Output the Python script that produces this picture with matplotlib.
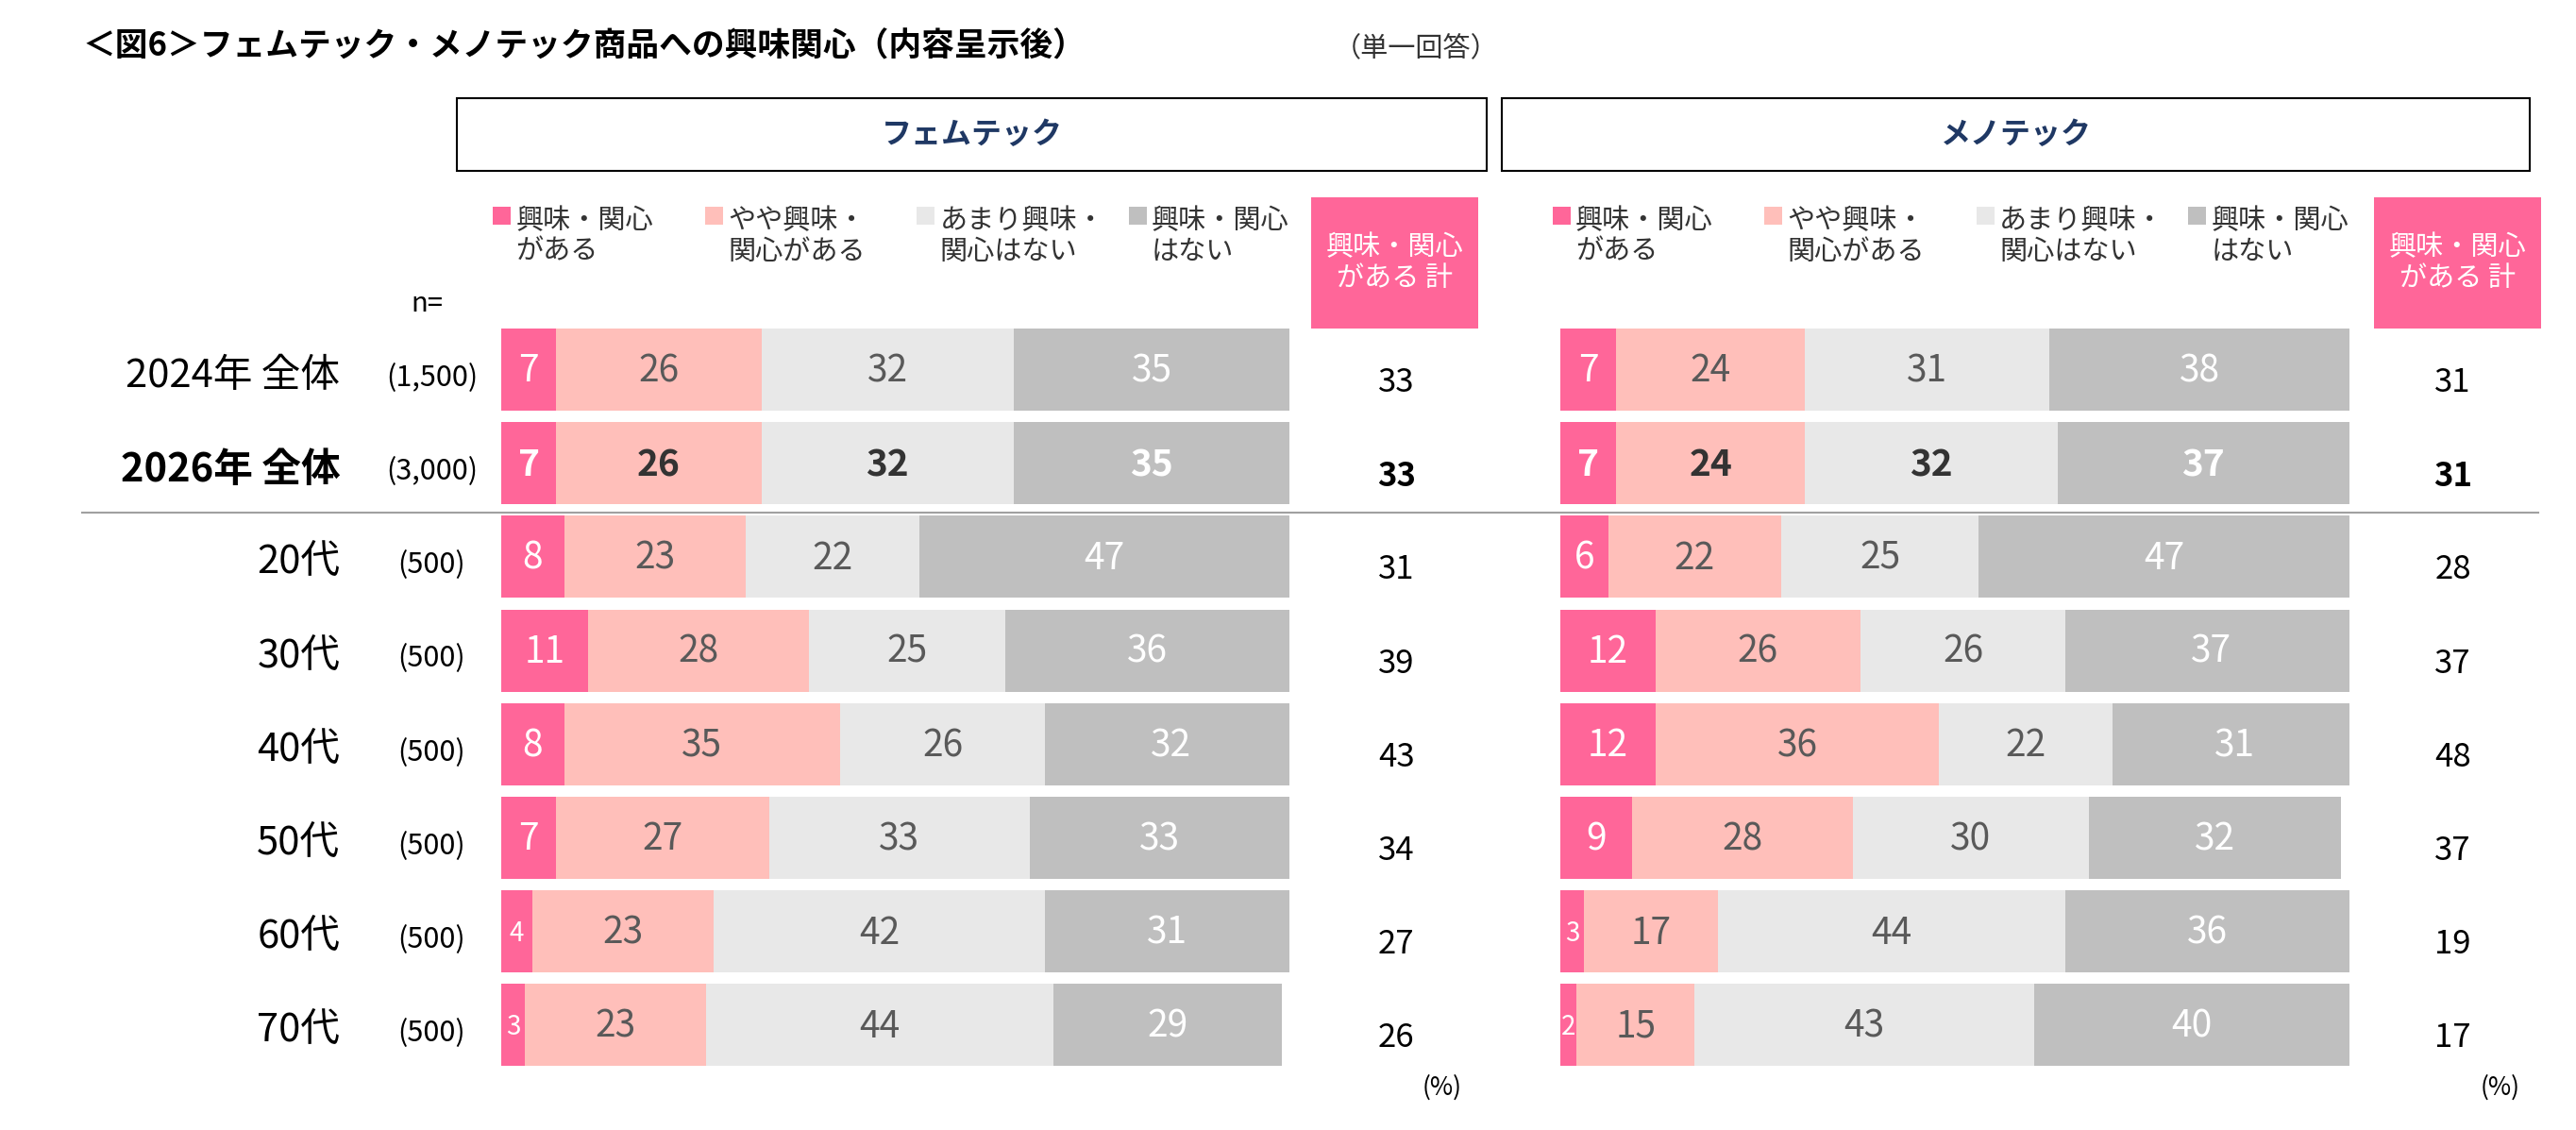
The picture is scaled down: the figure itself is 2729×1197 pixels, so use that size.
import numpy as np
import matplotlib.pyplot as plt
from matplotlib.patches import Rectangle

plt.rcParams['font.family'] = ['Noto Sans CJK JP', 'DejaVu Sans']

rows = ['2024年 全体', '2026年 全体', '20代', '30代', '40代', '50代', '60代', '70代']
ns = ['(1,500)', '(3,000)', '(500)', '(500)', '(500)', '(500)', '(500)', '(500)']
legend = ['興味・関心\nがある', 'やや興味・\n関心がある', 'あまり興味・\n関心はない', '興味・関心\nはない']
fem = np.array([[7, 26, 32, 35], [7, 26, 32, 35], [8, 23, 22, 47], [11, 28, 25, 36],
                [8, 35, 26, 32], [7, 27, 33, 33], [4, 23, 42, 31], [3, 23, 44, 29]])
fem_total = [33, 33, 31, 39, 43, 34, 27, 26]
meno = np.array([[7, 24, 31, 38], [7, 24, 32, 37], [6, 22, 25, 47], [12, 26, 26, 37],
                 [12, 36, 22, 31], [9, 28, 30, 32], [3, 17, 44, 36], [2, 15, 43, 40]])
meno_total = [31, 31, 28, 37, 48, 37, 19, 17]

colors = ['#FF6699', '#FFBFBA', '#E8E8E8', '#BFBFBF']
txtc = ['white', '#595959', '#595959', 'white']

W, H = 2729, 1197
fig = plt.figure(figsize=(W / 100, H / 100), dpi=100)
bg = fig.add_axes([0, 0, 1, 1])
bg.set_xlim(0, 1568)
bg.set_ylim(687.8, 0)
bg.axis('off')

bg.text(50, 28, '＜図6＞フェムテック・メノテック商品への興味関心（内容呈示後）', fontsize=25, fontweight='bold', va='center')
bg.text(812, 30, '（単一回答）', fontsize=21, va='center', color='#333333')
bg.text(250, 185, 'n=', fontsize=21, va='center')

row_y = np.array([225, 282, 339, 396, 453, 510, 567, 624])
for i, (r, n) in enumerate(zip(rows, ns)):
    bold = 'bold' if i == 1 else 'normal'
    if i < 2:
        bg.text(207, row_y[i] + 4, r, fontsize=30, ha='right', va='center', fontweight=bold)
        bg.text(291, row_y[i] + 5, n, fontsize=22, ha='right', va='center')
    else:
        bg.text(207, row_y[i] + 4, r, fontsize=30, ha='right', va='center')
        bg.text(283, row_y[i] + 5, n, fontsize=22, ha='right', va='center')
bg.plot([50, 1545], [312, 312], color='#A0A0A0', lw=1.5)

panels = [('フェムテック', 278, 905, 305, fem, fem_total, 850, 798, 878),
          ('メノテック', 914, 1540, 950, meno, meno_total, 1493, 1445, 1522)]
for title, bx0, bx1, ax0, data, tot, tx, px, pcx in panels:
    bg.add_patch(Rectangle((bx0, 60), bx1 - bx0, 44, fill=False, ec='black', lw=1.5))
    bg.text((bx0 + bx1) / 2, 82, title, fontsize=23, fontweight='bold', color='#1F3864', ha='center', va='center')
    for k, lab in enumerate(legend):
        lx = ax0 - 5 + k * 129
        bg.add_patch(Rectangle((lx, 126), 11, 11, color=colors[k], lw=0))
        bg.text(lx + 14, 144, lab, fontsize=21, va='center', linespacing=1.1, color='#333333')
    bg.add_patch(Rectangle((px, 120), 102, 80, color=colors[0], lw=0))
    bg.text(px + 51, 160, '興味・関心\nがある 計', fontsize=21, color='white', ha='center', va='center', linespacing=1.1)
    for i, t in enumerate(tot):
        bg.text(tx, row_y[i] + 8, str(t), fontsize=25, ha='center', va='center',
                fontweight='bold' if i == 1 else 'normal')
    bg.text(pcx, 662, '(%)', fontsize=19, ha='center', va='center')

    ax = fig.add_axes([ax0 / 1568, 0, 480 / 1568, 1])
    ax.set_xlim(0, 100)
    ax.set_ylim(687.8, 0)
    ax.axis('off')
    left = np.zeros(len(rows))
    for k in range(4):
        ax.barh(row_y, data[:, k], left=left, height=50, color=colors[k], lw=0)
        for i in range(len(rows)):
            v = data[i, k]
            small = v < 5
            ax.text(left[i] + v / 2, row_y[i] + 1, str(v), ha='center', va='center',
                    fontsize=20 if small else 28, color=('#333333' if (i == 1 and k in (1, 2)) else txtc[k]),
                    fontweight='bold' if i == 1 else 'normal')
        left += data[:, k]

fig.savefig('out.png', dpi=100)
